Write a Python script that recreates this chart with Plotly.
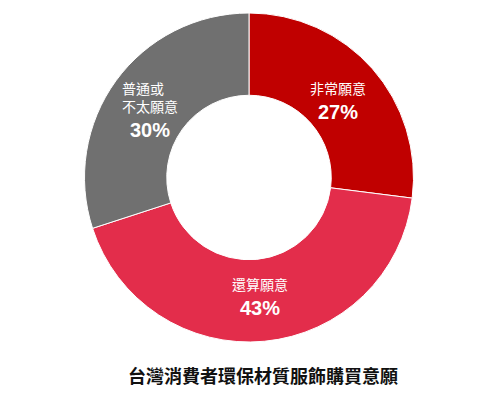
import numpy as np
import plotly.graph_objects as go

# Survey shares, clockwise from 12 o'clock
categories = ["非常願意", "還算願意", "普通或<br>不太願意"]
shares = [27, 43, 30]
colors = ["#C00000", "#E32D4B", "#707070"]
title_text = "台灣消費者環保材質服飾購買意願"

W, H = 500, 394
# donut placement in pixels
cx_px, cy_px, r_px = 249, 177.5, 164.5
hole = 0.5

dom_x = [(cx_px - r_px) / W, (cx_px + r_px) / W]
dom_y = [(H - cy_px - r_px) / H, (H - cy_px + r_px) / H]

fig = go.Figure(
    go.Pie(
        labels=categories,
        values=shares,
        hole=hole,
        sort=False,
        direction="clockwise",
        rotation=0,
        marker=dict(colors=colors, line=dict(color="white", width=1)),
        textinfo="none",
        hoverinfo="label+percent",
        showlegend=False,
        domain=dict(x=dom_x, y=dom_y),
    )
)

# slice labels: name above, bold percentage below, centred in the ring segment
vals = np.array(shares, dtype=float)
frac = vals / vals.sum()
mid = np.cumsum(frac) - frac / 2
ang = mid * 2 * np.pi
r_lab = 118
font_family = "Liberation Sans, Noto Sans CJK TC"
name_lh, pct_h = 18, 22
for name, f, a in zip(categories, frac, ang):
    bx = cx_px + r_lab * np.sin(a)
    by = cy_px + 3 - r_lab * np.cos(a)
    n_lines = name.count("<br>") + 1
    bx -= 4 * (n_lines - 1)
    split = by + (name_lh * n_lines - pct_h) / 2
    fig.add_annotation(
        text=name, x=bx / W, y=(H - split + 1) / H, xref="paper", yref="paper",
        xanchor="center", yanchor="bottom", align="left", showarrow=False,
        font=dict(size=14, color="white", family=font_family),
    )
    fig.add_annotation(
        text="<b>%d%%</b>" % round(f * 100), x=bx / W, y=(H - split + 1) / H,
        xref="paper", yref="paper",
        xanchor="center", yanchor="top", showarrow=False,
        font=dict(size=20, color="white", family=font_family),
    )

fig.add_annotation(
    text="<b>" + title_text + "</b>",
    x=0.526, y=(H - 375) / H, xref="paper", yref="paper",
    xanchor="center", yanchor="middle", showarrow=False,
    font=dict(size=18, color="#111111", family="Noto Sans CJK TC"),
)

fig.update_layout(
    width=W, height=H,
    margin=dict(l=0, r=0, t=0, b=0),
    paper_bgcolor="white",
    plot_bgcolor="white",
)

fig.write_html("out.html")
